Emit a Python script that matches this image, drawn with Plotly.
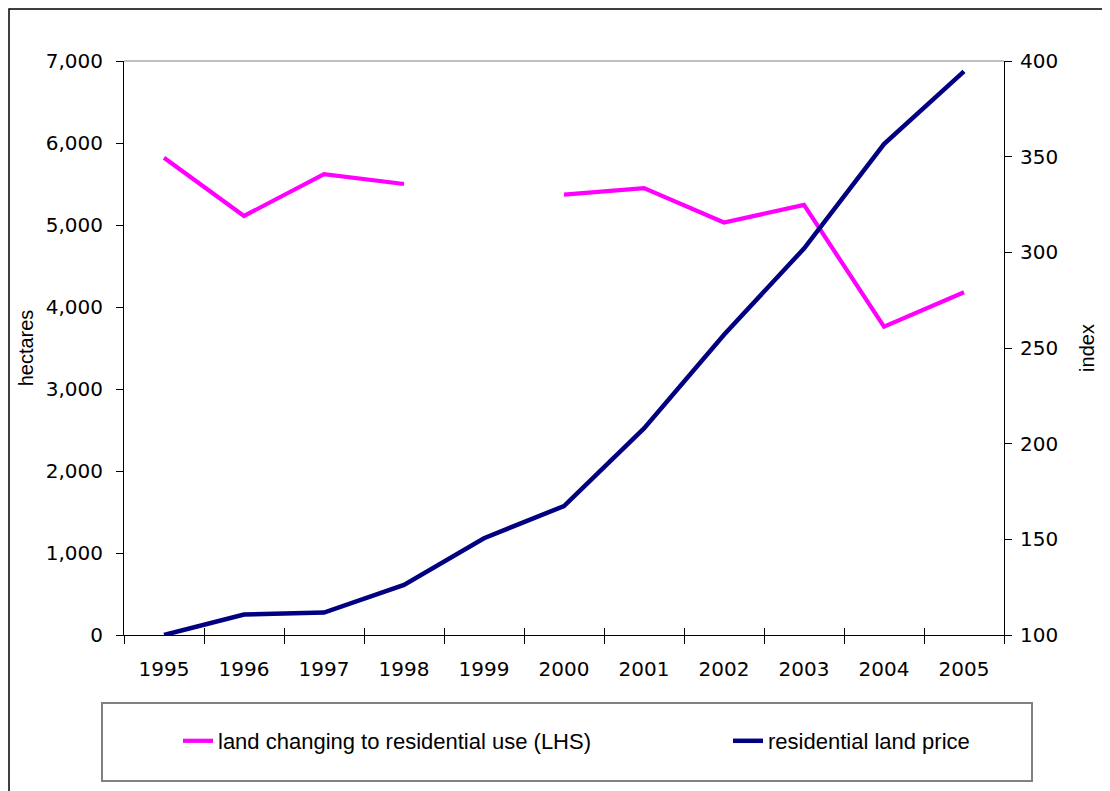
import plotly.graph_objects as go

years = ["1995", "1996", "1997", "1998", "1999", "2000", "2001", "2002", "2003", "2004", "2005"]
land_hectares = [5820, 5110, 5620, 5500, None, 5370, 5450, 5030, 5245, 3760, 4180]
price_index = [100, 110.7, 111.7, 126.2, 150.6, 167.4, 208, 256.9, 302, 356.6, 394.6]

left_ticks = [0, 1000, 2000, 3000, 4000, 5000, 6000, 7000]
right_ticks = [100, 150, 200, 250, 300, 350, 400]

TICK_FONT = dict(family="DejaVu Sans", size=20, color="black")
LBL_FONT = dict(family="Liberation Sans, Arial", size=20, color="black")
LEG_FONT = dict(family="Liberation Sans, Arial", size=22, color="black")

# page body has an 8px margin: work in window coordinates and shift
OFF = 8
W, H = 1110 - OFF, 791 - OFF
L, T = 124 - OFF, 61 - OFF
R = W - (1004 - OFF)
B = H - (635 - OFF)
pw, ph = W - L - R, H - T - B


def px(xw):
    return (xw - OFF - L) / pw


def py(yw):
    return (H - B - (yw - OFF)) / ph


fig = go.Figure()
fig.add_trace(go.Scatter(
    x=years, y=land_hectares, name="land changing to residential use (LHS)",
    mode="lines", line=dict(color="#FF00FF", width=4.2), connectgaps=False,
    yaxis="y", xaxis="x", legend="legend"))
fig.add_trace(go.Scatter(
    x=years, y=price_index, name="residential land price",
    mode="lines", line=dict(color="#000080", width=4.5),
    yaxis="y2", xaxis="x", legend="legend2"))
# helper trace for inner half of crossing x ticks
fig.add_trace(go.Scatter(
    x=years, y=[None] * len(years), xaxis="x2", yaxis="y",
    showlegend=False, hoverinfo="skip", mode="lines"))

leg_common = dict(
    orientation="h", xanchor="left", yanchor="middle",
    bgcolor="rgba(0,0,0,0)", borderwidth=0, font=LEG_FONT,
)

fig.update_layout(
    width=W, height=H,
    margin=dict(l=L, r=R, t=T, b=B),
    paper_bgcolor="white", plot_bgcolor="white",
    showlegend=True,
    xaxis=dict(
        type="category", categoryorder="array", categoryarray=years,
        range=[-0.5, 10.5], tickson="boundaries", ticks="outside", ticklen=8,
        tickcolor="black", tickwidth=1, showline=True, linecolor="black",
        linewidth=1, showgrid=False, zeroline=False, tickfont=TICK_FONT,
        ticklabelstandoff=16,
    ),
    xaxis2=dict(
        type="category", categoryorder="array", categoryarray=years,
        overlaying="x", side="bottom", range=[-0.5, 10.5],
        tickson="boundaries", ticks="inside", ticklen=7, tickcolor="black",
        tickwidth=1, showticklabels=False, showgrid=False, zeroline=False,
        showline=False,
    ),
    yaxis=dict(
        range=[0, 7000], tickvals=left_ticks, tickformat=",",
        ticks="outside", ticklen=7, tickcolor="black", showline=True,
        linecolor="black", linewidth=1, showgrid=False, zeroline=False,
        tickfont=TICK_FONT, ticklabelstandoff=9,
        title=dict(text="hectares", font=LBL_FONT, standoff=6),
    ),
    yaxis2=dict(
        range=[100, 400], tickvals=right_ticks, overlaying="y", side="right",
        ticks="outside", ticklen=7, tickcolor="black", showline=True,
        linecolor="black", linewidth=1, showgrid=False, zeroline=False,
        tickfont=TICK_FONT, ticklabelstandoff=4,
        title=dict(text="index", font=LBL_FONT, standoff=22),
    ),
    legend=dict(x=px(178), y=py(741), **leg_common),
    legend2=dict(x=px(728), y=py(741), **leg_common),
    shapes=[
        # outer chart border (page margin limits how far up/left it can go)
        dict(type="rect", xref="paper", yref="paper",
             x0=px(9), x1=px(1200), y0=py(900), y1=py(9),
             line=dict(color="black", width=1.5), layer="below"),
        # plot area top border
        dict(type="line", xref="paper", yref="paper",
             x0=0, x1=1, y0=1, y1=1, line=dict(color="#808080", width=1)),
        # legend box
        dict(type="rect", xref="paper", yref="paper",
             x0=px(102), x1=px(1032), y0=py(781), y1=py(703),
             line=dict(color="#808080", width=2)),
    ],
)

fig.write_html("out.html")
